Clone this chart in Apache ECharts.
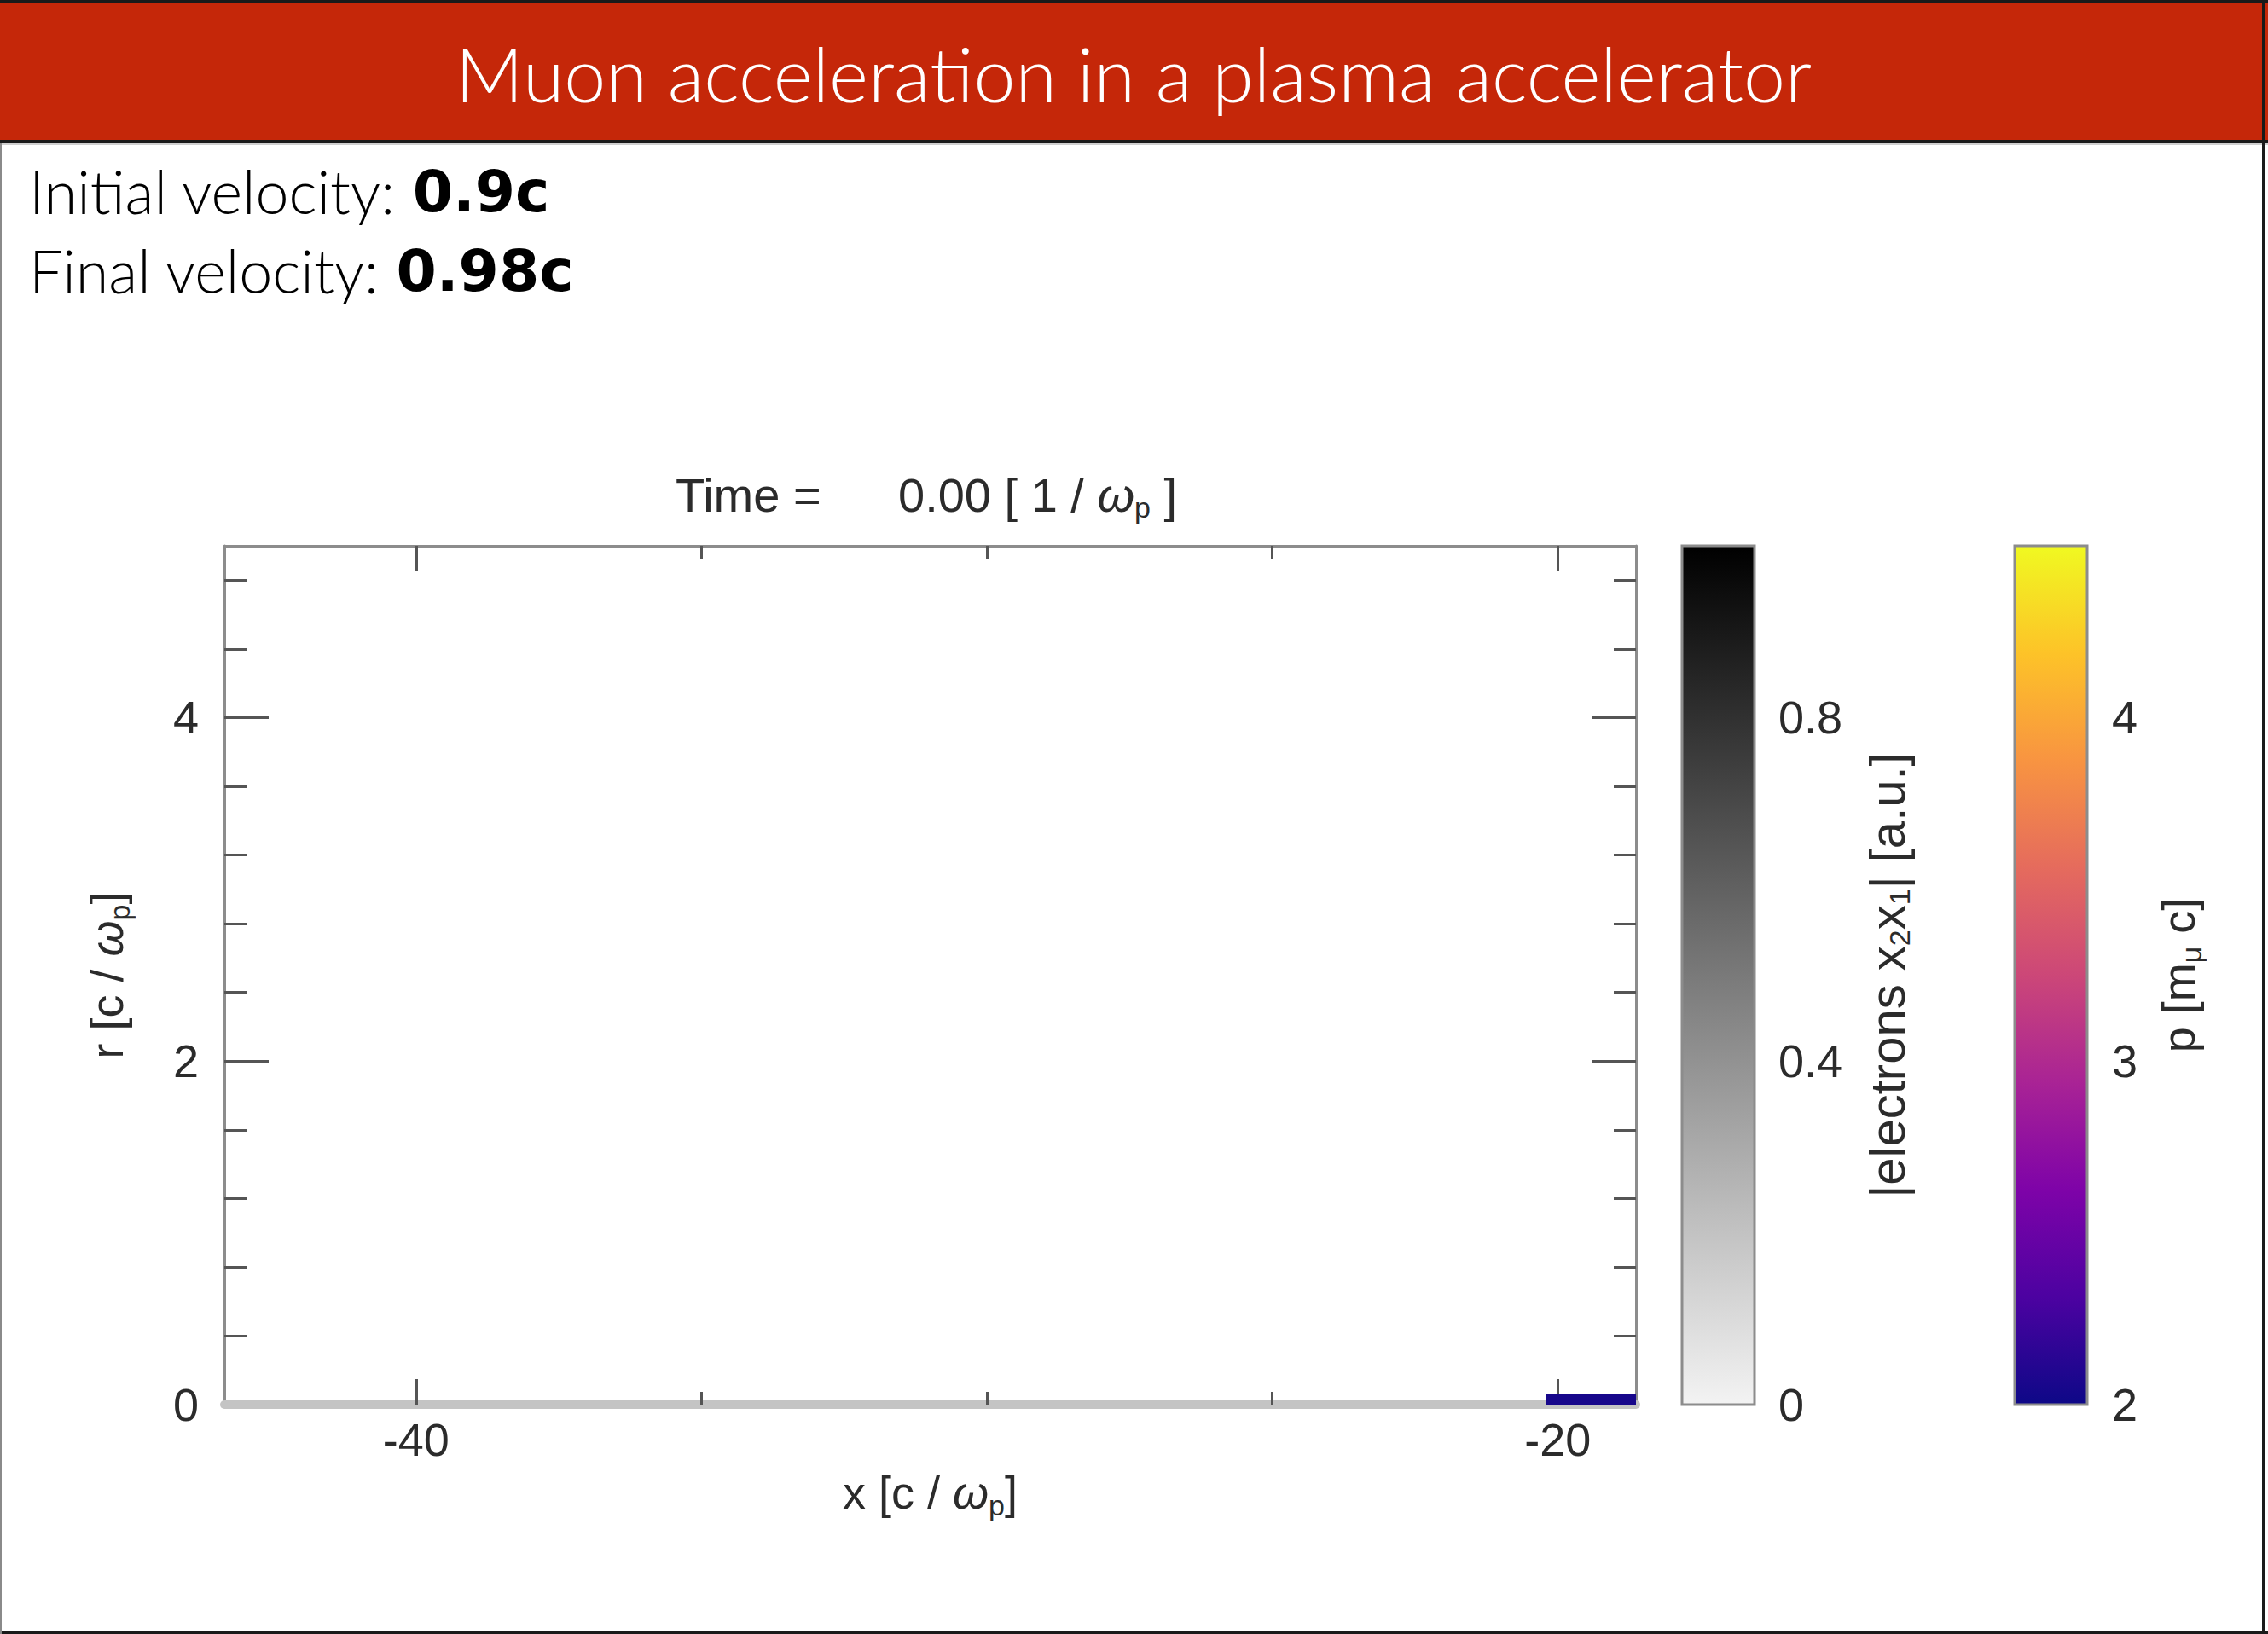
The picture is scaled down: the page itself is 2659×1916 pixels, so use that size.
<!DOCTYPE html>
<html><head><meta charset="utf-8">
<script src="https://cdn.jsdelivr.net/npm/echarts@6/dist/echarts.min.js"></script>
<style>html,body{margin:0;padding:0;background:#fff}#c{width:2659px;height:1916px}</style>
</head><body><div id="c"></div>
<script>
// ---------- texts ----------
const headerTitle = 'Muon acceleration in a plasma accelerator';
const initialLabel = 'Initial velocity: ';
const initialVelocity = '0.9c';
const finalLabel = 'Final velocity: ';
const finalVelocity = '0.98c';
const timeValue = '0.00';

// ---------- main plot axes ----------
const xRange = [-43.36, -18.63];
const xMajorTicks = [-40, -20];
const xMinorTicks = [-35, -30, -25];
const rRange = [0, 5];
const rLabels = [0, 2, 4];
const rMajorTicks = [2, 4];
const rMinorTicks = [0.4, 0.8, 1.2, 1.6, 2.4, 2.8, 3.2, 3.6, 4.4, 4.8];

// ---------- muon beam (x start, x end, r extent, momentum p) ----------
const beamXStart = [-20.2];
const beamXEnd = [-18.63];
const beamRMax = [0.06];
const beamP = [2.05];

// ---------- colour bars ----------
const densityRange = [0, 1];
const densityLabels = [0, 0.4, 0.8];
const densityMajorTicks = [0.4, 0.8];
const densityMinorTicks = [0.08, 0.16, 0.24, 0.32, 0.48, 0.56, 0.64, 0.72, 0.88, 0.96];
const pRange = [2, 4.5];
const pLabels = [2, 3, 4];
const pMajorTicks = [3, 4];
const pMinorTicks = [2.2, 2.4, 2.6, 2.8, 3.2, 3.4, 3.6, 3.8, 4.2, 4.4];

const grayColors = ['#f3f3f3', '#000000'];
const plasmaColors = ['#0d0887', '#4c02a1', '#7e03a8', '#a92395', '#cc4778', '#e56b5d', '#f89441', '#fdc328', '#f0f921'];

// ---------- styling ----------
const FONT = '"Liberation Sans", Arial, sans-serif';
const HFONT = 'Lato, "Open Sans", sans-serif';
const BFONT = '"DejaVu Sans", Lato, sans-serif';
const TXT = '#2b2b2b';
const TICK = '#555555';
const FRAME = '#8c8c8c';
const FS = 54;

function makeRich(size) {
  return {
    a: {fontSize: size, fontFamily: FONT, color: TXT, lineHeight: 64},
    w: {fontSize: size, fontFamily: FONT, color: TXT, lineHeight: 64, fontStyle: 'italic'},
    s: {fontSize: 34, fontFamily: FONT, color: TXT, lineHeight: 34, verticalAlign: 'bottom'}
  };
}
const nameRich = makeRich(FS);

function tickAxis(base, opts) {
  return Object.assign({
    type: 'value',
    splitLine: {show: false},
    axisLine: {show: false, onZero: false},
    axisLabel: {show: false},
    axisTick: {show: true, inside: true, length: opts.len, customValues: opts.ticks,
               lineStyle: {color: opts.tickColor || TICK, width: 3}}
  }, base);
}
function labelStyle(values, margin) {
  return {show: true, customValues: values, margin: margin, fontSize: FS,
          fontFamily: FONT, color: TXT, lineHeight: 60};
}

const xAxes = [
  tickAxis({gridIndex: 0, position: 'bottom', min: xRange[0], max: xRange[1],
    axisLine: {show: true, onZero: false, lineStyle: {color: '#c4c4c4', width: 10}},
    axisLabel: labelStyle(xMajorTicks, 11),
    name: '{a|x [c / }{w|ω}{s|p}{a|]}', nameLocation: 'middle', nameGap: 60,
    nameTextStyle: {rich: nameRich}}, {len: 30, ticks: xMajorTicks}),
  tickAxis({gridIndex: 0, position: 'bottom', min: xRange[0], max: xRange[1]}, {len: 15, ticks: xMinorTicks}),
  tickAxis({gridIndex: 0, position: 'top', min: xRange[0], max: xRange[1],
    axisLine: {show: true, onZero: false, lineStyle: {color: FRAME, width: 3}}}, {len: 30, ticks: xMajorTicks}),
  tickAxis({gridIndex: 0, position: 'top', min: xRange[0], max: xRange[1]}, {len: 15, ticks: xMinorTicks}),
  {gridIndex: 1, type: 'value', min: 0, max: 1, show: false},
  {gridIndex: 2, type: 'value', min: 0, max: 1, show: false}
];

const yAxes = [
  // main plot
  tickAxis({gridIndex: 0, position: 'left', min: rRange[0], max: rRange[1],
    axisLine: {show: true, onZero: false, lineStyle: {color: FRAME, width: 3}},
    axisLabel: labelStyle(rLabels, 30),
    name: '{a|r [c / }{w|ω}{s|p}{a|]}', nameLocation: 'middle', nameGap: 106, nameRotate: 90,
    nameTextStyle: {rich: nameRich}}, {len: 52, ticks: rMajorTicks}),
  tickAxis({gridIndex: 0, position: 'left', min: rRange[0], max: rRange[1]}, {len: 26, ticks: rMinorTicks}),
  tickAxis({gridIndex: 0, position: 'right', min: rRange[0], max: rRange[1],
    axisLine: {show: true, onZero: false, lineStyle: {color: FRAME, width: 3}}}, {len: 52, ticks: rMajorTicks}),
  tickAxis({gridIndex: 0, position: 'right', min: rRange[0], max: rRange[1]}, {len: 26, ticks: rMinorTicks}),
  // density colour bar
  tickAxis({gridIndex: 1, position: 'left', min: densityRange[0], max: densityRange[1]}, {len: 26, ticks: densityMajorTicks, tickColor: '#444'}),
  tickAxis({gridIndex: 1, position: 'left', min: densityRange[0], max: densityRange[1]}, {len: 14, ticks: densityMinorTicks, tickColor: '#444'}),
  tickAxis({gridIndex: 1, position: 'right', min: densityRange[0], max: densityRange[1],
    axisLabel: labelStyle(densityLabels, 28),
    name: '{a||electrons x}{s|2}{a|x}{s|1}{a|| [a.u.]}', nameLocation: 'middle', nameGap: 123, nameRotate: 90,
    nameTextStyle: {rich: makeRich(58)}}, {len: 26, ticks: densityMajorTicks, tickColor: '#444'}),
  tickAxis({gridIndex: 1, position: 'right', min: densityRange[0], max: densityRange[1]}, {len: 14, ticks: densityMinorTicks, tickColor: '#444'}),
  // momentum colour bar
  tickAxis({gridIndex: 2, position: 'left', min: pRange[0], max: pRange[1]}, {len: 24, ticks: pMajorTicks, tickColor: '#444'}),
  tickAxis({gridIndex: 2, position: 'left', min: pRange[0], max: pRange[1]}, {len: 14, ticks: pMinorTicks, tickColor: '#444'}),
  tickAxis({gridIndex: 2, position: 'right', min: pRange[0], max: pRange[1],
    axisLabel: labelStyle(pLabels, 29),
    name: '{a|p [m}{s|μ}{a| c]}', nameLocation: 'middle', nameGap: 75, nameRotate: 90,
    nameTextStyle: {rich: nameRich}}, {len: 24, ticks: pMajorTicks, tickColor: '#444'}),
  tickAxis({gridIndex: 2, position: 'right', min: pRange[0], max: pRange[1]}, {len: 14, ticks: pMinorTicks, tickColor: '#444'})
];

const beamData = beamXStart.map((xs, i) => [xs, beamXEnd[i], beamRMax[i], beamP[i]]);

function colourBar(colors) {
  return function (params, api) {
    const a = api.coord([api.value(0), api.value(3)]);
    const b = api.coord([api.value(1), api.value(2)]);
    return {
      type: 'rect',
      shape: {x: a[0], y: a[1], width: b[0] - a[0], height: b[1] - a[1]},
      style: {
        fill: {type: 'linear', x: 0, y: 1, x2: 0, y2: 0,
               colorStops: colors.map((c, i) => ({offset: i / (colors.length - 1), color: c}))},
        stroke: FRAME, lineWidth: 3
      }
    };
  };
}

const velRich = {
  l: {fill: '#000', fontFamily: HFONT, fontWeight: 300, fontSize: 70, lineHeight: 80},
  b: {fill: '#000', fontFamily: BFONT, fontWeight: 'bold', fontSize: 68, lineHeight: 80}
};

const option = {
  animation: false,
  backgroundColor: '#ffffff',
  grid: [
    {left: 263, top: 640, width: 1655, height: 1007},
    {left: 1972, top: 640, width: 85, height: 1007},
    {left: 2362, top: 640, width: 85, height: 1007}
  ],
  xAxis: xAxes,
  yAxis: yAxes,
  visualMap: [{
    type: 'continuous', show: false, seriesIndex: 0, dimension: 3,
    min: pRange[0], max: pRange[1], inRange: {color: plasmaColors}
  }],
  series: [
    {type: 'custom', name: 'muon beam', xAxisIndex: 0, yAxisIndex: 0,
     data: beamData, encode: {x: [0, 1], y: 2},
     renderItem: function (params, api) {
       const a = api.coord([api.value(0), api.value(2)]);
       const b = api.coord([api.value(1), 0]);
       return {type: 'rect', shape: {x: a[0], y: a[1], width: b[0] - a[0], height: b[1] - a[1]},
               style: {fill: api.visual('color')}};
     }},
    {type: 'custom', name: '|electrons x2x1|', xAxisIndex: 4, yAxisIndex: 4,
     data: [[0, 1, densityRange[0], densityRange[1]]], encode: {x: [0, 1], y: [2, 3]},
     renderItem: colourBar(grayColors)},
    {type: 'custom', name: 'p', xAxisIndex: 5, yAxisIndex: 8,
     data: [[0, 1, pRange[0], pRange[1]]], encode: {x: [0, 1], y: [2, 3]},
     renderItem: colourBar(plasmaColors)}
  ],
  graphic: [
    {type: 'rect', shape: {x: 0, y: 4, width: 2659, height: 162}, style: {fill: '#c52709'}, z: 0},
    {type: 'rect', shape: {x: 0, y: 0, width: 2659, height: 4}, style: {fill: '#1a1a1a'}},
    {type: 'rect', shape: {x: 0, y: 164, width: 2659, height: 4}, style: {fill: '#1a1a1a'}},
    {type: 'rect', shape: {x: 0, y: 168, width: 2659, height: 2}, style: {fill: '#cfcfcf'}},
    {type: 'rect', shape: {x: 2652, y: 0, width: 4, height: 1916}, style: {fill: '#1a1a1a'}},
    {type: 'rect', shape: {x: 0, y: 1912, width: 2659, height: 4}, style: {fill: '#1a1a1a'}},
    {type: 'rect', shape: {x: 0, y: 168, width: 2, height: 1748}, style: {fill: '#8a8a8a'}},
    {type: 'text', x: 1329, y: 86, style: {text: headerTitle, fill: '#ffffff',
      font: '300 88px ' + HFONT, align: 'center', verticalAlign: 'middle'}},
    {type: 'text', x: 34, y: 224, style: {
      text: '{l|' + initialLabel + '}{b|' + initialVelocity + '}', align: 'left', verticalAlign: 'middle',
      rich: velRich}},
    {type: 'text', x: 34, y: 317, style: {
      text: '{l|' + finalLabel + '}{b|' + finalVelocity + '}', align: 'left', verticalAlign: 'middle',
      rich: velRich}},
    {type: 'text', x: 792, y: 580, style: {text: 'Time =', fill: TXT,
      font: '56px ' + FONT, align: 'left', verticalAlign: 'middle'}},
    {type: 'text', x: 1053, y: 580, style: {
      text: '{a|' + timeValue + ' [ 1 / }{w|ω}{s|p}{a| ]}', align: 'left', verticalAlign: 'middle',
      rich: {a: {fill: TXT, fontFamily: FONT, fontSize: 56, lineHeight: 64},
             w: {fill: TXT, fontFamily: FONT, fontSize: 56, lineHeight: 64, fontStyle: 'italic'},
             s: {fill: TXT, fontFamily: FONT, fontSize: 34, lineHeight: 34, verticalAlign: 'bottom'}}}}
  ]
};

const chart = echarts.init(document.getElementById('c'), null, {renderer: 'svg', width: 2659, height: 1916});
chart.setOption(option);
</script>
</body></html>
